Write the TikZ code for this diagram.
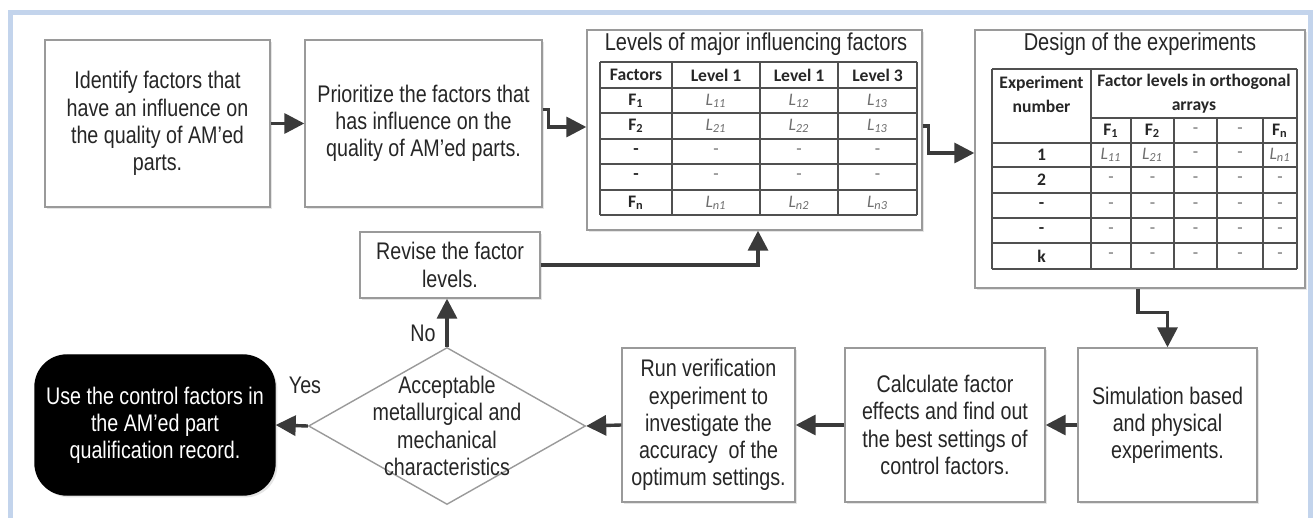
\documentclass[tikz,border=0pt]{standalone}
\usepackage{fontspec}
\setmainfont{Liberation Sans}[FakeStretch=0.82]
\newfontfamily\tabfont{Carlito}
\usepackage{tikz}
\usetikzlibrary{arrows.meta,positioning,shapes.geometric,shadows}
\definecolor{ink}{HTML}{262626}
\definecolor{edgegray}{HTML}{9A9A9A}
\definecolor{arrowgray}{HTML}{3A3A3A}
\definecolor{framebl}{HTML}{C3D4EC}
\definecolor{cellgray}{HTML}{6E6E6E}
\definecolor{rulegray}{HTML}{505050}
\newcommand{\boxsize}{\fontsize{12}{13.6}\selectfont}
\newcommand{\titlesize}{\fontsize{12.2}{14}\selectfont}
\newcommand{\Lval}[1]{\textcolor{cellgray}{\itshape L\textsubscript{#1}}}
\newcommand{\Fname}[1]{\textbf{F\textsubscript{#1}}}
\newcommand{\dashcell}{\textcolor{cellgray}{-}}
\tikzset{
  stepbox/.style={draw=edgegray, line width=0.7pt, fill=white, align=center,
    font=\boxsize, text=ink, inner sep=2pt,
    drop shadow={shadow xshift=1.2pt, shadow yshift=-1.2pt, opacity=.2}},
  flow/.style={-{Triangle[length=10pt,width=10pt]}, line width=1.7pt, draw=arrowgray},
  tablerule/.style={draw=rulegray, line width=1pt},
  cell/.style={font=\tabfont\fontsize{8.8}{10}\selectfont, text=ink, inner sep=1pt, align=center},
  label/.style={font=\boxsize, text=ink, inner sep=1pt}
}

\begin{document}
\begin{tikzpicture}[x=0.5pt,y=-0.5pt]
  \useasboundingbox (0,0) rectangle (1313,518);
  \fill[white] (0,0) rectangle (1313,518);
  \draw[framebl, line width=2.5pt] (10,518) -- (10,13) -- (1310,13) -- (1310,518);

  % top row
  \node[stepbox, minimum width=112.5pt, minimum height=83.5pt] (identify) at (157.5,123.5)
    {Identify factors that\\have an influence on\\the quality of AM’ed\\parts.};
  \node[stepbox, minimum width=118.5pt, minimum height=83.5pt] (prioritize) at (423.5,123.5)
    {Prioritize the factors that\\has influence on the\\quality of AM’ed parts.};
  \node[stepbox, minimum width=167.5pt, minimum height=100pt] (levels) at (754.5,130) {};
  \node[stepbox, minimum width=165pt, minimum height=129pt] (design) at (1140,159) {};

  % levels table
  \node[font=\titlesize, text=ink] (levelstitle) at (756,44) {Levels of major influencing factors};
  \foreach \y in {62,88,113,139,164,190,215}
    \draw[tablerule] (600,\y) -- (917,\y);
  \foreach \x in {600,672,760,838,917}
    \draw[tablerule] (\x,62) -- (\x,215);
  \foreach \y/\a/\b/\c/\d [count=\r] in {
      75/\textbf{Factors}/\textbf{Level 1}/\textbf{Level 1}/\textbf{Level 3},
      100.5/\Fname{1}/\Lval{11}/\Lval{12}/\Lval{13},
      126/\Fname{2}/\Lval{21}/\Lval{22}/\Lval{13},
      151.5/\textbf{-}/\dashcell/\dashcell/\dashcell,
      177/\textbf{-}/\dashcell/\dashcell/\dashcell,
      202.5/\Fname{n}/\Lval{n1}/\Lval{n2}/\Lval{n3}} {
    \node[cell] (lv-\r-1) at (636,\y) {\a};
    \node[cell] (lv-\r-2) at (716,\y) {\b};
    \node[cell] (lv-\r-3) at (799,\y) {\c};
    \node[cell] (lv-\r-4) at (877.5,\y) {\d};
  }

  % design table
  \node[font=\titlesize, text=ink] (designtitle) at (1140,44) {Design of the experiments};
  \foreach \y in {69,143,167,193,218,243,269}
    \draw[tablerule] (992,\y) -- (1297,\y);
  \draw[tablerule] (1091,118) -- (1297,118);
  \foreach \x in {992,1091,1297}
    \draw[tablerule] (\x,69) -- (\x,269);
  \foreach \x in {1131,1174,1217,1263}
    \draw[tablerule] (\x,118) -- (\x,269);
  \node[cell, font=\tabfont\bfseries\fontsize{8.8}{12}\selectfont] (expno) at (1041.5,94) {Experiment\\number};
  \node[cell, font=\tabfont\bfseries\fontsize{8.8}{12}\selectfont] (faclev) at (1194,94) {Factor levels in orthogonal\\arrays};
  \foreach \y/\a/\b/\c/\d/\e/\f [count=\r] in {
      130.5//\Fname{1}/\Fname{2}/\dashcell/\dashcell/\Fname{n},
      155/\textbf{1}/\Lval{11}/\Lval{21}/\dashcell/\dashcell/\Lval{n1},
      180/\textbf{2}/\dashcell/\dashcell/\dashcell/\dashcell/\dashcell,
      205.5/\textbf{-}/\dashcell/\dashcell/\dashcell/\dashcell/\dashcell,
      230.5/\textbf{-}/\dashcell/\dashcell/\dashcell/\dashcell/\dashcell,
      256/\textbf{k}/\dashcell/\dashcell/\dashcell/\dashcell/\dashcell} {
    \node[cell] (ex-\r-1) at (1041.5,\y) {\a};
    \node[cell] (ex-\r-2) at (1111,\y) {\b};
    \node[cell] (ex-\r-3) at (1152.5,\y) {\c};
    \node[cell] (ex-\r-4) at (1195.5,\y) {\d};
    \node[cell] (ex-\r-5) at (1240,\y) {\e};
    \node[cell] (ex-\r-6) at (1280,\y) {\f};
  }

  % bottom row
  \node[stepbox, minimum width=90pt, minimum height=33pt] (revise) at (450,265)
    {Revise the factor\\levels.};
  \node[draw=edgegray, line width=0.7pt, fill=white, shape=diamond, inner sep=0pt,
    minimum width=138.5pt, minimum height=78.5pt] (decision) at (447,426) {};
  \node[label, align=center] (decisiontext) at (decision.center)
    {Acceptable\\metallurgical and\\mechanical\\characteristics};
  \node[stepbox, fill=black, draw=black, text=white, rounded corners=16pt,
    minimum width=120pt, minimum height=70pt] (usefactors) at (155,425)
    {Use the control factors in\\the AM’ed part\\qualification record.};
  \node[stepbox, minimum width=86.5pt, minimum height=77pt] (verify) at (708.5,425)
    {Run verification\\experiment to\\investigate the\\accuracy~ of the\\optimum settings.};
  \node[stepbox, minimum width=100pt, minimum height=77pt] (calculate) at (945,425)
    {Calculate factor\\effects and find out\\the best settings of\\control factors.};
  \node[stepbox, minimum width=89.5pt, minimum height=77pt] (simulate) at (1167.5,425)
    {Simulation based\\and physical\\experiments.};

  \node[label] (nolabel) at (423,333) {No};
  \node[label] (yeslabel) at (305,385) {Yes};

  % connectors
  \draw[flow] (identify) -- (prioritize);
  \draw[flow] ([yshift=7pt]prioritize.east) -- ++(3pt,0) |- ([yshift=1.5pt]levels.west);
  \draw[flow] ([yshift=2pt]levels.east) -- ++(3pt,0) |- ([yshift=3pt]design.west);
  \draw[flow] ([xshift=-1pt]design.south) -- ++(0,-12pt) -| (simulate.north);
  \draw[flow] (simulate) -- (calculate);
  \draw[flow] (calculate) -- (verify);
  \draw[flow] (verify.west) -- (decision.east);
  \draw[flow] (decision.west) -- (usefactors.east);
  \draw[flow] (decision.north) -- (decision.north |- revise.south);
  \draw[flow] (revise.east) -| ([xshift=1.75pt]levels.south);
\end{tikzpicture}
\end{document}
